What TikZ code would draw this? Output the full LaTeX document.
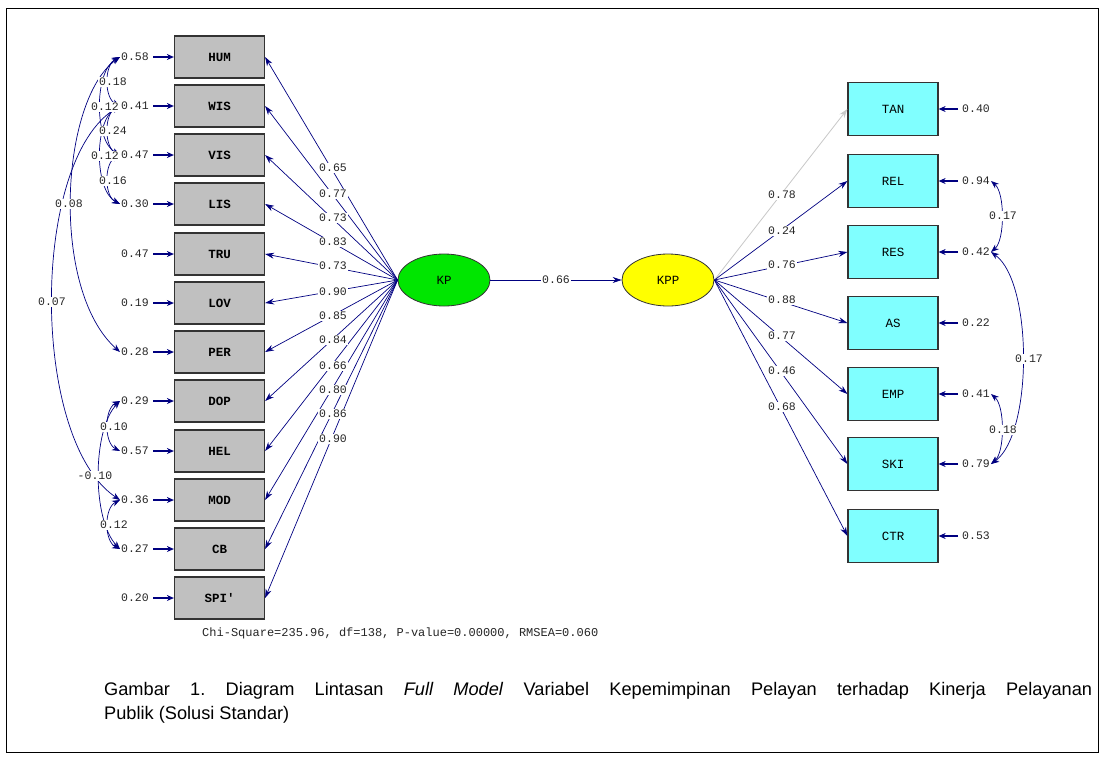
\documentclass[tikz,border=0pt]{standalone}
\usepackage{fontspec}
\setmainfont{Liberation Sans}
\newfontfamily\lis{Liberation Mono}
\usetikzlibrary{arrows.meta,shapes.geometric}
\definecolor{nv}{RGB}{0,0,128}
\definecolor{gbx}{RGB}{192,192,192}
\definecolor{cbx}{RGB}{128,255,255}
\definecolor{grn}{RGB}{0,230,0}
\definecolor{yel}{RGB}{255,255,0}
\definecolor{lgr}{RGB}{200,200,200}
\begin{document}
\begin{tikzpicture}[x=1pt,y=-1pt,
 gbox/.style={draw=black!80,line width=1.2pt,fill=gbx,minimum width=90pt,minimum height=42pt,inner sep=0pt,font=\lis\fontsize{12.5}{14}\selectfont\bfseries},
 cbox/.style={draw=black!80,line width=1.2pt,fill=cbx,minimum width=90pt,minimum height=53pt,inner sep=0pt,font=\lis\fontsize{12.5}{14}\selectfont},
 lat/.style={ellipse,draw=black!80,line width=0.8pt,minimum width=92pt,minimum height=52pt,inner sep=0pt,font=\lis\fontsize{12.5}{14}\selectfont},
 num/.style={font=\lis\fontsize{11.5}{13}\selectfont,inner sep=1pt,text=black!85},
 lbl/.style={num,fill=white},
 arr/.style={draw=nv,line width=0.7pt,-{Stealth[length=9pt,width=6pt]}},
 garr/.style={draw=lgr,line width=0.8pt,-{Stealth[length=9pt,width=6pt]}},
 err/.style={draw=nv,line width=1.1pt,shorten <=3pt,-{Stealth[length=7pt,width=6pt]}},
 cov/.style={draw=nv,line width=0.7pt,{Stealth[length=8pt,width=6pt]}-{Stealth[length=8pt,width=6pt]}},
]
\useasboundingbox (0,0) rectangle (1105,756);
\draw[line width=1pt] (6,8) rectangle (1098,752);

% left indicators
\foreach \n/\t/\y/\e in {HUM/HUM/57/0.58, WIS/WIS/106/0.41, VIS/VIS/155/0.47, LIS/LIS/204/0.30, TRU/TRU/254/0.47, LOV/LOV/303/0.19, PER/PER/352/0.28, DOP/DOP/401/0.29, HEL/HEL/451/0.57, MOD/MOD/500/0.36, CB/CB/549/0.27, SPI/SPI'/598/0.20}{
  \node[gbox] (\n) at (219.5,\y) {\t};
  \node[num,anchor=east] (e\n) at (150,\y) {\e};
  \draw[err] (e\n) -- (\n);
}
% right indicators
\foreach \n/\y/\e in {TAN/109/0.40, REL/181/0.94, RES/252/0.42, AS/323/0.22, EMP/394/0.41, SKI/464/0.79, CTR/536/0.53}{
  \node[cbox] (\n) at (893,\y) {\n};
  \node[num,anchor=west] (e\n) at (961,\y) {\e};
  \draw[err] (e\n) -- (\n);
}
% latent
\node[lat,fill=grn] (KP) at (444,280) {KP};
\node[lat,fill=yel] (KPP) at (668,280) {KPP};

% loadings
\foreach \n in {HUM,WIS,VIS,LIS,TRU,LOV,PER,DOP,HEL,MOD,CB,SPI}{
  \draw[arr] (KP.west) -- (\n.east);
}
\draw[garr] (KPP.east) -- (TAN.west);
\foreach \n in {REL,RES,AS,EMP,SKI,CTR}{
  \draw[arr] (KPP.east) -- (\n.west);
}
\draw[arr] (KP) -- (KPP);

% error covariances left
\draw[cov] (eHUM.west) .. controls +(-16,8) and +(-16,-8) .. (eWIS.west);
\draw[cov] (eHUM.west) .. controls +(-26,14) and +(-26,-14) .. (eVIS.west);
\draw[cov] (eWIS.west) .. controls +(-16,8) and +(-16,-8) .. (eVIS.west);
\draw[cov] (eWIS.west) .. controls +(-26,14) and +(-26,-14) .. (eLIS.west);
\draw[cov] (eVIS.west) .. controls +(-16,8) and +(-16,-8) .. (eLIS.west);
\draw[cov] (eHUM.west) .. controls (60,100) and (50,290) .. (ePER.west);
\draw[cov] (eWIS.west) .. controls (30,160) and (30,440) .. (eMOD.west);
\draw[cov] (eDOP.west) .. controls +(-16,8) and +(-16,-8) .. (eHEL.west);
\draw[cov] (eDOP.west) .. controls (92,430) and (92,520) .. (eCB.west);
\draw[cov] (eMOD.west) .. controls +(-16,8) and +(-16,-8) .. (eCB.west);
% error covariances right
\draw[cov] (eREL.east) .. controls +(14,12) and +(14,-12) .. (eRES.east);
\draw[cov] (eRES.east) .. controls +(42,30) and +(42,-30) .. (eSKI.east);
\draw[cov] (eEMP.east) .. controls +(14,12) and +(14,-12) .. (eSKI.east);

% loading labels
\foreach \n/\y/\v in {HUM/168/0.65, WIS/194/0.77, VIS/218/0.73, LIS/242/0.83, TRU/266/0.73, LOV/292/0.90, PER/316/0.85, DOP/340/0.84, HEL/366/0.66, MOD/390/0.80, CB/414/0.86, SPI/439/0.90}{
  \node[lbl] (l\n) at (333,\y) {\v};
}
\foreach \n/\y/\v in {TAN/195/0.78, REL/231/0.24, RES/265/0.76, AS/300/0.88, EMP/336/0.77, SKI/371/0.46, CTR/407/0.68}{
  \node[lbl] (l\n) at (782,\y) {\v};
}
\node[lbl] (lKPP) at (556,280) {0.66};

% covariance labels
\node[lbl] (c1) at (113,82) {0.18};
\node[lbl] (c2) at (105,107) {0.12};
\node[lbl] (c3) at (113,131) {0.24};
\node[lbl] (c4) at (105,156) {0.12};
\node[lbl] (c5) at (113,181) {0.16};
\node[lbl] (c6) at (69,204) {0.08};
\node[lbl] (c7) at (52,302) {0.07};
\node[lbl] (c8) at (114,427) {0.10};
\node[lbl] (c9) at (95,476) {-0.10};
\node[lbl] (c10) at (114,525) {0.12};
\node[lbl] (c11) at (1003,216) {0.17};
\node[lbl] (c12) at (1029,359) {0.17};
\node[lbl] (c13) at (1003,430) {0.18};

\node[num,anchor=west,font=\lis\fontsize{12}{14}\selectfont] (chi) at (201,633) {Chi-Square=235.96, df=138, P-value=0.00000, RMSEA=0.060};

\node[anchor=north west,text width=988pt,align=justify,inner sep=0pt,font=\fontsize{18.2}{24}\selectfont] (cap) at (104,682) {\frenchspacing Gambar 1. Diagram Lintasan \textit{Full Model} Variabel Kepemimpinan Pelayan terhadap Kinerja Pelayanan\linebreak Publik (Solusi Standar)};
\end{tikzpicture}
\end{document}
